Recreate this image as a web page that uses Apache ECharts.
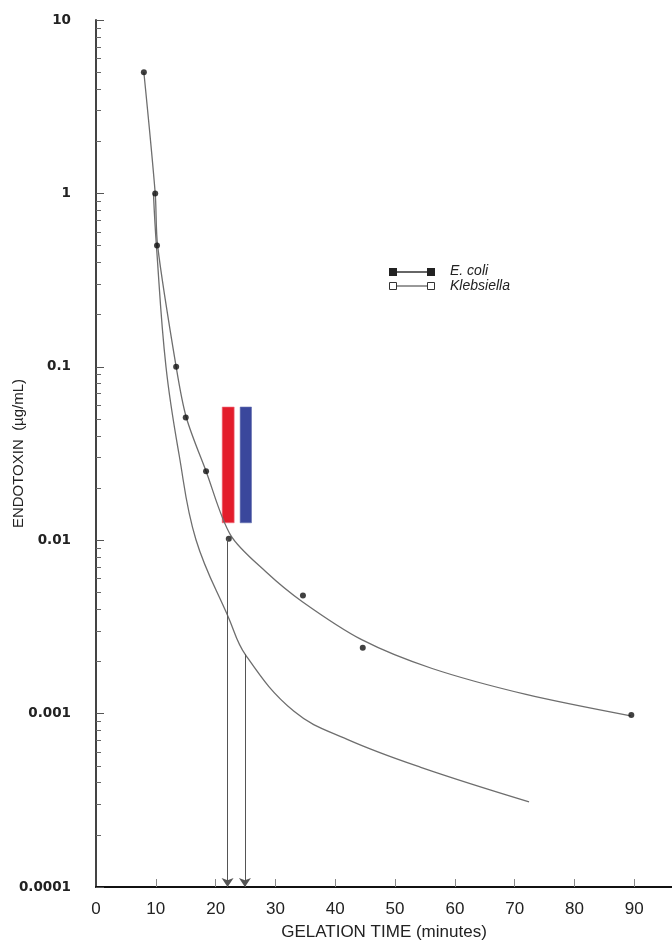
<!DOCTYPE html>
<html>
<head>
<meta charset="utf-8">
<script src="https://cdn.jsdelivr.net/npm/echarts@6/dist/echarts.min.js"></script>
<style>
html,body{margin:0;padding:0;background:#fff;}
#chart{width:672px;height:947px;}
</style>
</head>
<body>
<div id="chart"></div>
<script>
// ---- data: measured points ----
const ecoliX = [8.0, 9.9, 10.2, 13.4, 15.0, 18.4, 22.2, 34.6, 44.6, 89.5];
const ecoliY = [5.0, 1.0, 0.5, 0.1, 0.051, 0.025, 0.0102, 0.0048, 0.0024, 0.00098];
const klebX = [9.6, 10.1, 11.7, 16.7, 22.2, 24.9, 33.1, 42.0, 54.3, 72.4];
const klebY = [1.0, 0.5, 0.1, 0.0101, 0.0035, 0.0022, 0.00103, 0.00071, 0.00049, 0.00031];
// ---- data: fitted curves ----
const ecoliCurveX = [8.0, 9.9, 10.3, 13.4, 15.1, 18.4, 22.5, 28.4, 34.5, 44.5, 56.2, 71.9, 89.4];
const ecoliCurveY = [5.0, 1.0, 0.5, 0.1, 0.051, 0.025, 0.0107, 0.00658, 0.00442, 0.00266, 0.00182, 0.00129, 0.00097];
const klebCurveX = [9.6, 10.1, 11.7, 13.9, 16.7, 22.2, 25.0, 33.1, 42.0, 54.3, 72.4];
const klebCurveY = [1.0, 0.5, 0.1, 0.031, 0.0101, 0.00355, 0.00218, 0.00103, 0.00071, 0.00049, 0.00031];

const seriesNames = ['E. coli', 'Klebsiella'];
const xTickValues = [0, 10, 20, 30, 40, 50, 60, 70, 80, 90];
const yTickValues = [0.0001, 0.001, 0.01, 0.1, 1, 10];
const yTickLabels = ['0.0001', '0.001', '0.01', '0.1', '1', '10'];
const yMinorMultipliers = [2, 3, 4, 5, 6, 7, 8, 9];
// highlighted bars (x range and y range)
const barX0 = [21.1, 24.1];
const barX1 = [23.1, 26.0];
const barYTop = [0.0586, 0.0586];
const barYBottom = [0.0126, 0.0126];
// arrows down to the time axis
const arrowX = [22.0, 24.9];
const arrowYStart = [0.0102, 0.0022];

const xAxisTitle = 'GELATION TIME (minutes)';
const yAxisTitle = 'ENDOTOXIN  (\u00b5g/mL)';

// ---- build ----
const minorTicks = [];
yTickValues.slice(0, -1).forEach(d => yMinorMultipliers.forEach(m => minorTicks.push(+(d * m).toPrecision(3))));

const barColors = ['#e31d2c', '#3a479c'];
const chart = echarts.init(document.getElementById('chart'), null, {renderer: 'canvas'});

const option = {
  animation: false,
  backgroundColor: '#fff',
  grid: {left: 96, right: 0, top: 20, bottom: 60, containLabel: false, outerBoundsMode: 'none'},
  xAxis: {
    type: 'value', min: 0, max: 96.3,
    axisLine: {lineStyle: {color: '#111', width: 2}},
    axisTick: {inside: true, length: 8, customValues: xTickValues.slice(1), lineStyle: {color: '#888', width: 1}},
    axisLabel: {customValues: xTickValues, margin: 14, fontSize: 17, color: '#222', fontFamily: 'Liberation Sans'},
    splitLine: {show: false},
    name: xAxisTitle, nameLocation: 'middle', nameGap: 37, nameMoveOverlap: false,
    nameTextStyle: {fontSize: 17, color: '#222', fontFamily: 'Liberation Sans'}
  },
  yAxis: [{
    type: 'log', logBase: 10, min: 0.0001, max: 10,
    axisLine: {lineStyle: {color: '#444', width: 2}},
    axisTick: {inside: true, length: 5, customValues: minorTicks, lineStyle: {color: '#666', width: 1}},
    axisLabel: {
      margin: 25, fontSize: 13.5, fontWeight: 'bold', color: '#222', fontFamily: 'DejaVu Sans',
      customValues: yTickValues,
      formatter: v => { const i = yTickValues.findIndex(t => Math.abs(Math.log10(t) - Math.log10(v)) < 1e-6); return i >= 0 ? yTickLabels[i] : ''; }
    },
    splitLine: {show: false},
    name: yAxisTitle, nameLocation: 'middle', nameGap: 70, nameRotate: 90, nameMoveOverlap: false,
    nameTextStyle: {fontSize: 15, color: '#222', fontFamily: 'Liberation Sans'}
  }, {
    type: 'log', logBase: 10, min: 0.0001, max: 10, position: 'left',
    axisLine: {show: false},
    axisTick: {inside: true, length: 8, customValues: yTickValues, lineStyle: {color: '#555', width: 1}},
    axisLabel: {show: false},
    splitLine: {show: false}
  }],
  series: [{
    name: seriesNames[0] + ' curve', type: 'line', smooth: 0.3, yAxisIndex: 0,
    data: ecoliCurveX.map((x, i) => [x, ecoliCurveY[i]]),
    symbol: 'none',
    lineStyle: {color: '#6e6e6e', width: 1.3},
    z: 3
  }, {
    name: seriesNames[1] + ' curve', type: 'line', smooth: 0.4, yAxisIndex: 0,
    data: klebCurveX.map((x, i) => [x, klebCurveY[i]]),
    symbol: 'none',
    lineStyle: {color: '#6e6e6e', width: 1.3},
    z: 3
  }, {
    name: seriesNames[0], type: 'scatter', yAxisIndex: 0,
    data: ecoliX.map((x, i) => [x, ecoliY[i]]),
    symbol: 'circle', symbolSize: 6,
    itemStyle: {color: '#111'},
    z: 4
  }, {
    name: seriesNames[1], type: 'scatter', yAxisIndex: 0,
    data: klebX.map((x, i) => [x, klebY[i]]),
    symbol: 'emptyRect', symbolSize: 4,
    itemStyle: {color: '#fff', borderColor: '#bbb', borderWidth: 1},
    z: 2
  }, {
    name: 'annot', type: 'line', data: [], yAxisIndex: 0,
    markArea: {
      silent: true,
      data: barX0.map((x0, i) => [
        {coord: [x0, barYTop[i]], itemStyle: {color: barColors[i], borderColor: i === 0 ? '#f07080' : '#6670b0', borderWidth: 0.6}},
        {coord: [barX1[i], barYBottom[i]]}
      ])
    },
    markLine: {
      silent: true, symbol: ['none', 'arrow'], symbolSize: 9,
      label: {show: false},
      lineStyle: {color: '#555', width: 1, type: 'solid'},
      data: arrowX.map((x, i) => [{coord: [x, arrowYStart[i]]}, {coord: [x, yTickValues[0]]}])
    },
    z: 2
  }],
  graphic: [
    {type: 'rect', shape: {x: 389, y: 268, width: 8, height: 8}, style: {fill: '#222'}},
    {type: 'rect', shape: {x: 427, y: 268, width: 8, height: 8}, style: {fill: '#222'}},
    {type: 'line', shape: {x1: 397, y1: 272, x2: 427, y2: 272}, style: {stroke: '#333', lineWidth: 1.5}},
    {type: 'rect', shape: {x: 389.5, y: 282.5, width: 7, height: 7}, style: {fill: '#fff', stroke: '#333', lineWidth: 1}},
    {type: 'rect', shape: {x: 427.5, y: 282.5, width: 7, height: 7}, style: {fill: '#fff', stroke: '#333', lineWidth: 1}},
    {type: 'line', shape: {x1: 397, y1: 286, x2: 427, y2: 286}, style: {stroke: '#333', lineWidth: 1}},
    {type: 'text', x: 450, y: 264, style: {text: seriesNames[0], font: 'italic 14px "Liberation Sans"', fill: '#222'}},
    {type: 'text', x: 450, y: 279, style: {text: seriesNames[1], font: 'italic 14px "Liberation Sans"', fill: '#222'}}
  ]
};
chart.setOption(option);
</script>
</body>
</html>
